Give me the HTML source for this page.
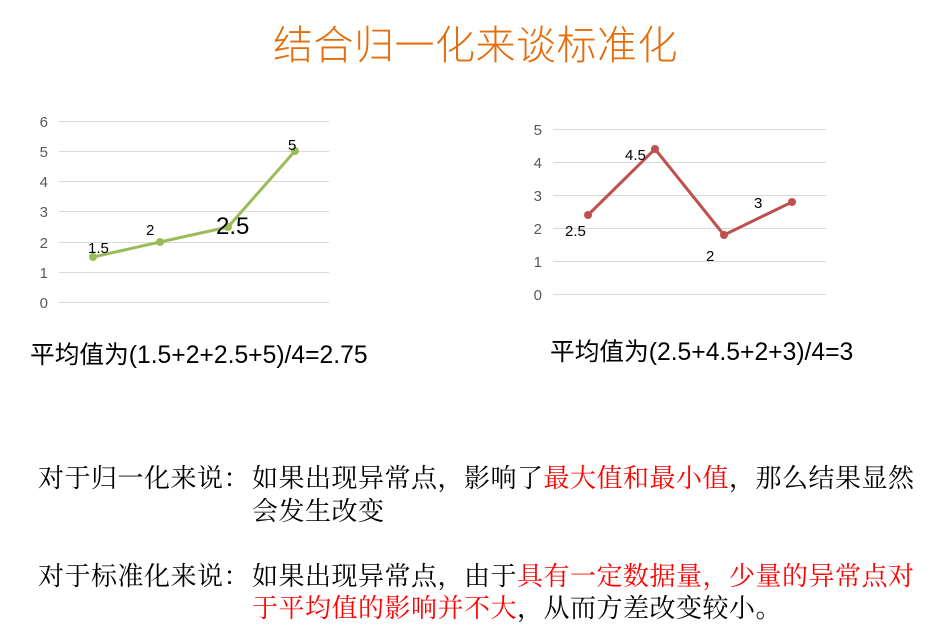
<!DOCTYPE html>
<html><head><meta charset="utf-8"><style>
body{margin:0;width:947px;height:639px;background:#fff;position:relative;overflow:hidden}
.t{position:absolute;white-space:nowrap}
.title{left:273px;top:13px;font:40px "Liberation Sans","Noto Sans CJK SC",sans-serif;color:#E46C0A;letter-spacing:0.5px;font-weight:300}
.avg{font:24.7px "Liberation Sans","Noto Sans CJK SC",sans-serif;color:#000}
.b{font:26px "Liberation Serif","Noto Serif CJK SC",serif;color:#000;letter-spacing:0.5px}
.r{color:#ff0000}
</style></head><body>
<div class="t title">结合归一化来谈标准化</div>
<svg width="947" height="639" style="position:absolute;left:0;top:0" font-family="Liberation Sans, sans-serif">
<g stroke="#d9d9d9" stroke-width="1">
<line x1="59" x2="329" y1="121.5" y2="121.5"/><line x1="59" x2="329" y1="151.5" y2="151.5"/><line x1="59" x2="329" y1="181.5" y2="181.5"/><line x1="59" x2="329" y1="211.5" y2="211.5"/><line x1="59" x2="329" y1="242.5" y2="242.5"/><line x1="59" x2="329" y1="272.5" y2="272.5"/><line x1="59" x2="329" y1="302.5" y2="302.5"/>
<line x1="553" x2="826" y1="129.5" y2="129.5"/><line x1="553" x2="826" y1="162.5" y2="162.5"/><line x1="553" x2="826" y1="195.5" y2="195.5"/><line x1="553" x2="826" y1="228.5" y2="228.5"/><line x1="553" x2="826" y1="261.5" y2="261.5"/><line x1="553" x2="826" y1="294.5" y2="294.5"/>
</g>
<g fill="#595959" font-size="15" text-anchor="end">
<text x="48" y="127">6</text><text x="48" y="157">5</text><text x="48" y="187">4</text><text x="48" y="217">3</text><text x="48" y="248">2</text><text x="48" y="278">1</text><text x="48" y="308">0</text>
<text x="542" y="135">5</text><text x="542" y="168">4</text><text x="542" y="201">3</text><text x="542" y="234">2</text><text x="542" y="267">1</text><text x="542" y="300">0</text>
</g>
<polyline points="93,257 160,242 228,227 295,151" fill="none" stroke="#9BBB59" stroke-width="3"/>
<g fill="#9BBB59"><circle cx="93" cy="257" r="4"/><circle cx="160" cy="242" r="4"/><circle cx="228" cy="227" r="4"/><circle cx="295" cy="151" r="4"/></g>
<polyline points="588,215 655,149 724,235 792,202" fill="none" stroke="#C0504D" stroke-width="3"/>
<g fill="#C0504D"><circle cx="588" cy="215" r="4"/><circle cx="655" cy="149" r="4"/><circle cx="724" cy="235" r="4"/><circle cx="792" cy="202" r="4"/></g>
<g fill="#000" font-size="15">
<text x="88" y="253">1.5</text><text x="146" y="235">2</text><text x="288" y="150">5</text>
<text x="565" y="236">2.5</text><text x="625" y="160">4.5</text><text x="706" y="261">2</text><text x="754" y="208">3</text>
</g>
<text x="216" y="234" font-size="24" fill="#000">2.5</text>
</svg>
<div class="t avg" style="left:30px;top:335px">平均值为(1.5+2+2.5+5)/4=2.75</div>
<div class="t avg" style="left:550px;top:332px">平均值为(2.5+4.5+2+3)/4=3</div>
<div class="t b" style="left:38px;top:458px">对于归一化来说：</div>
<div class="t b" style="left:252px;top:458px">如果出现异常点，影响了<span class="r">最大值和最小值</span>，那么结果显然</div>
<div class="t b" style="left:252px;top:491px">会发生改变</div>
<div class="t b" style="left:38px;top:556px">对于标准化来说：</div>
<div class="t b" style="left:252px;top:556px">如果出现异常点，由于<span class="r">具有一定数据量，少量的异常点对</span></div>
<div class="t b" style="left:252px;top:588px"><span class="r">于平均值的影响并不大</span>，从而方差改变较小。</div>
</body></html>
